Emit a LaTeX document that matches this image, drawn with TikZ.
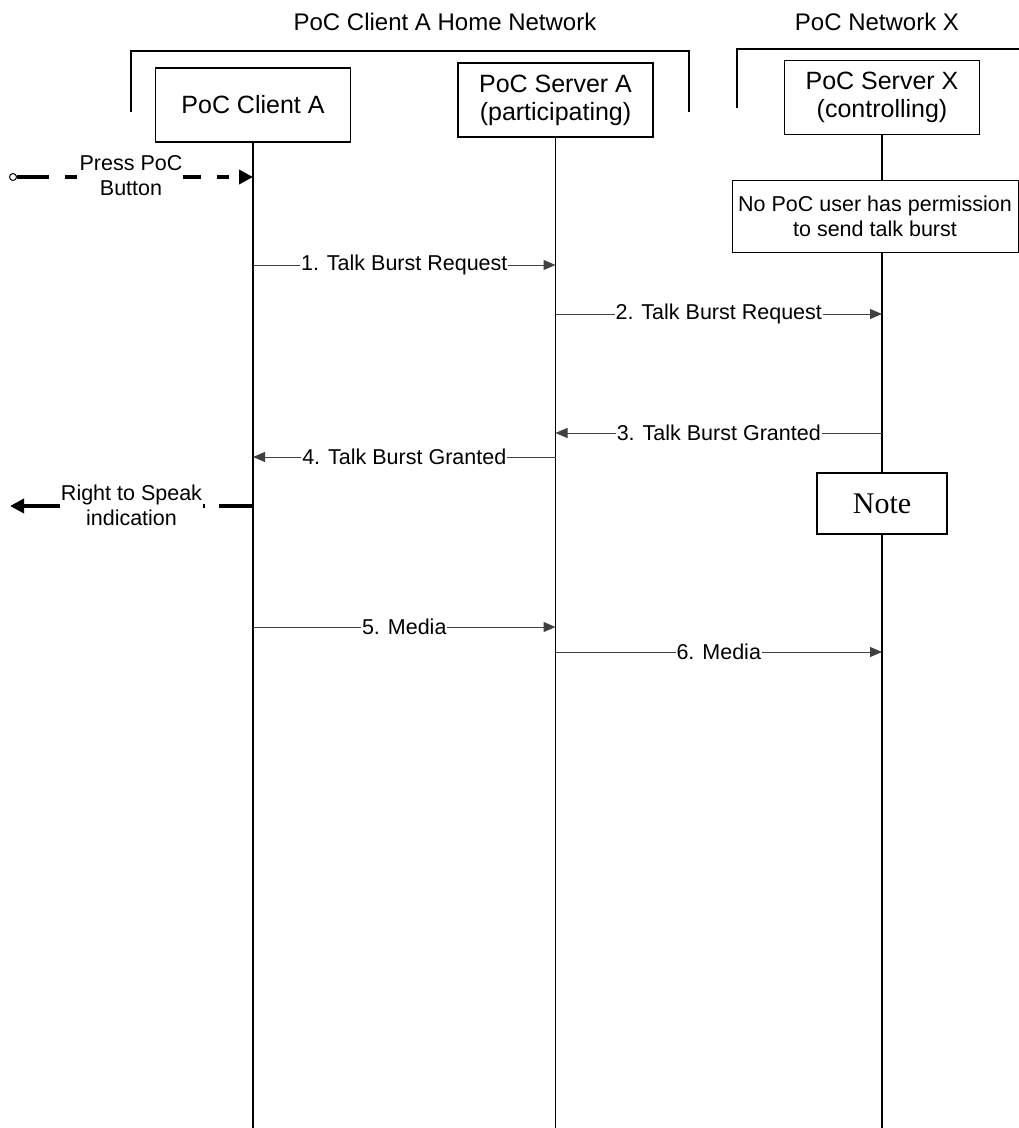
\documentclass[tikz,border=0pt]{standalone}
\usepackage{fontspec}
\setmainfont{Liberation Sans}
\newfontfamily\notefont{Liberation Serif}
\usetikzlibrary{arrows.meta}

\begin{document}
\begin{tikzpicture}[x=1pt, y=-1pt,
        entity/.style={rectangle, draw, line width=1.6pt, fill=white, align=center,
            minimum width=195pt, minimum height=74pt, inner sep=2pt,
            font=\fontsize{25}{28}\selectfont},
        remark/.style={rectangle, draw, line width=1pt, fill=white, align=center,
            inner sep=2pt, font=\fontsize{21.5}{25}\selectfont},
        lifeline/.style={line width=1.6pt},
        bracket/.style={line width=1.6pt},
        msg/.style={-{Triangle[length=12pt, width=10pt]}, line width=1pt, black!75},
        userev/.style={line width=3.5pt},
        lbl/.style={fill=white, inner sep=1pt, align=center, text=black,
            font=\fontsize{21.5}{25}\selectfont}
    ]
        \useasboundingbox (0,0) rectangle (1019,1128);

        % Network headings and brackets
        \node[font=\fontsize{24}{28}\selectfont] (homenet) at (445,22) {PoC Client A Home Network};
        \node[font=\fontsize{24}{28}\selectfont] (netx) at (877,22) {PoC Network X};
        \draw[bracket] (131,112) -- (131,51) -- (689,51) -- (689,112);
        \draw[bracket] (737,108) -- (737,49) -- (1019,49);

        % Entities
        \node[entity] (clienta) at (253,105) {PoC Client A};
        \node[entity] (servera) at (555.5,100) {PoC Server A\\(participating)};
        \node[entity] (serverx) at (882,97.5) {PoC Server X\\(controlling)};

        % Boxes on the controlling lifeline
        \node[remark, minimum width=286pt, minimum height=72pt] (noperm) at (875,216)
            {No PoC user has permission\\to send talk burst};
        \node[remark, line width=1.6pt, minimum width=130pt, minimum height=61pt,
            font=\notefont\fontsize{30}{34}\selectfont] (note) at (882,503.5) {Note};

        % Lifelines
        \coordinate (clientaend) at (253,1128);
        \coordinate (serveraend) at (555.5,1128);
        \coordinate (serverxend) at (882,1128);
        \draw[lifeline] (clienta.south) -- (clientaend);
        \draw[lifeline] (servera.south) -- (serveraend);
        \draw[lifeline] (serverx.south) -- (serverx.south |- noperm.north);
        \draw[lifeline] (serverx.south |- noperm.south) -- (serverx.south |- note.north);
        \draw[lifeline] (serverx.south |- note.south) -- (serverxend);

        % Points on the lifelines
        \coordinate (press) at (9,177);
        \coordinate (a0) at (253,177);
        \coordinate (a1) at (253,265);
        \coordinate (b1) at (555.5,265);
        \coordinate (b2) at (555.5,314);
        \coordinate (x2) at (882,314);
        \coordinate (x3) at (882,433);
        \coordinate (b3) at (555.5,433);
        \coordinate (b4) at (555.5,457);
        \coordinate (a4) at (253,457);
        \coordinate (a5) at (253,506);
        \coordinate (speak) at (10,506);
        \coordinate (a6) at (253,627);
        \coordinate (b6) at (555.5,627);
        \coordinate (b7) at (555.5,652);
        \coordinate (x7) at (882,652);

        % User events
        \draw[userev, dash pattern=on 32pt off 16pt on 12pt off 16pt,
            {Circle[open, length=8pt, line width=1pt]}-{Triangle[length=14pt, width=14pt]}]
            (press) -- node[lbl, yshift=1pt] {Press PoC\\Button} (a0);
        \draw[userev, dash pattern=on 34pt off 14pt on 10pt off 14pt on 400pt,
            -{Triangle[length=14pt, width=14pt]}]
            (a5) -- node[lbl, yshift=1pt] {Right to Speak\\indication} (speak);

        % Messages
        \draw[msg] (a1) -- node[lbl] {1. Talk Burst Request} (b1);
        \draw[msg] (b2) -- node[lbl] {2. Talk Burst Request} (x2);
        \draw[msg] (x3) -- node[lbl] {3. Talk Burst Granted} (b3);
        \draw[msg] (b4) -- node[lbl] {4. Talk Burst Granted} (a4);
        \draw[msg] (a6) -- node[lbl] {5. Media} (b6);
        \draw[msg] (b7) -- node[lbl] {6. Media} (x7);
    \end{tikzpicture}
\end{document}
